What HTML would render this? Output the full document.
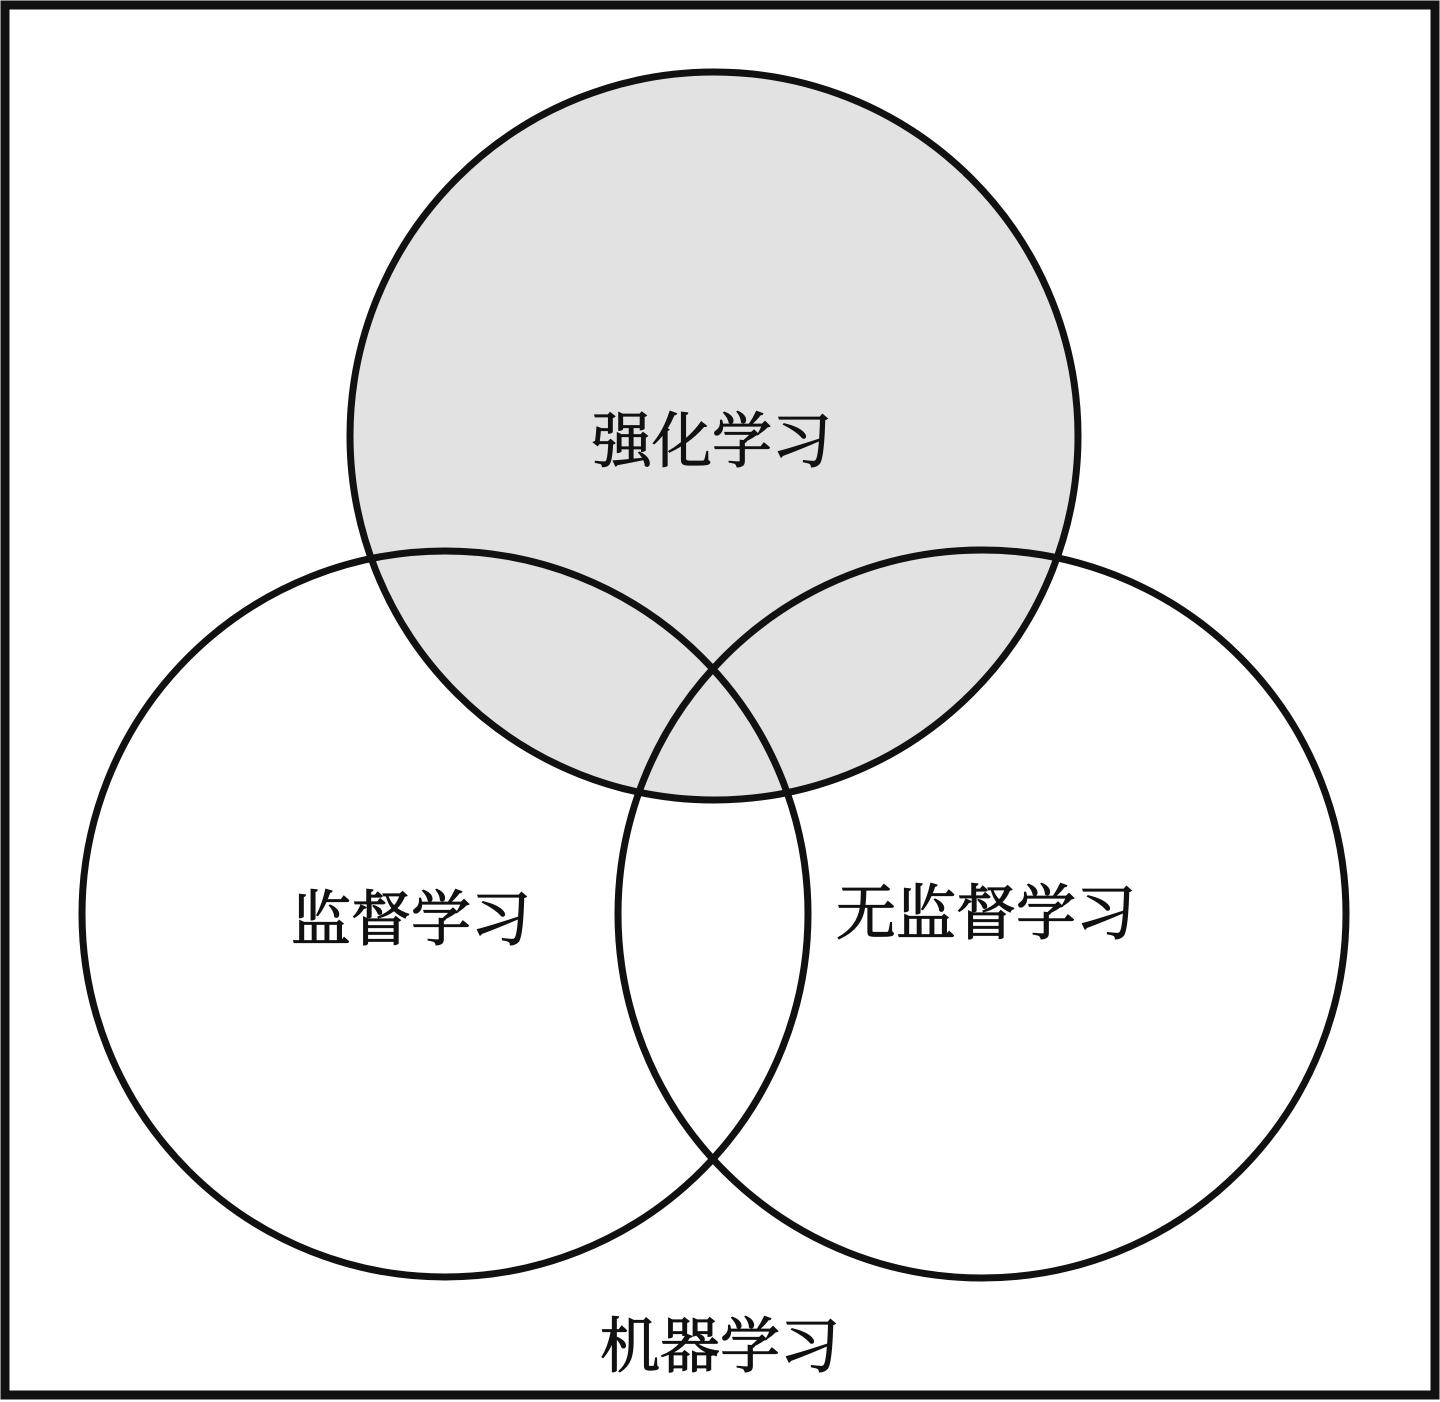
<!DOCTYPE html>
<html><head><meta charset="utf-8"><style>
html,body{margin:0;padding:0;background:#fff;}
svg{display:block;}
text{font-family:"Liberation Serif","Noto Serif CJK SC","Noto Sans CJK SC",serif;font-size:60px;fill:#111;stroke:#111;stroke-width:1.2;text-anchor:middle;}
</style></head><body>
<svg width="1440" height="1402" viewBox="0 0 1440 1402" xmlns="http://www.w3.org/2000/svg">
<rect x="0" y="0" width="1440" height="1402" fill="#fff"/>
<rect x="5" y="5" width="1430" height="1390" fill="none" stroke="#111" stroke-width="9"/>
<circle cx="714" cy="436" r="364" fill="#e2e2e2" stroke="#111" stroke-width="7"/>
<circle cx="445" cy="914" r="363" fill="none" stroke="#111" stroke-width="7"/>
<circle cx="982" cy="914" r="364" fill="none" stroke="#111" stroke-width="7"/>
<text x="712" y="462">强化学习</text>
<text x="411" y="940">监督学习</text>
<text x="986" y="934">无监督学习</text>
<text x="720" y="1367">机器学习</text>
</svg>
</body></html>
